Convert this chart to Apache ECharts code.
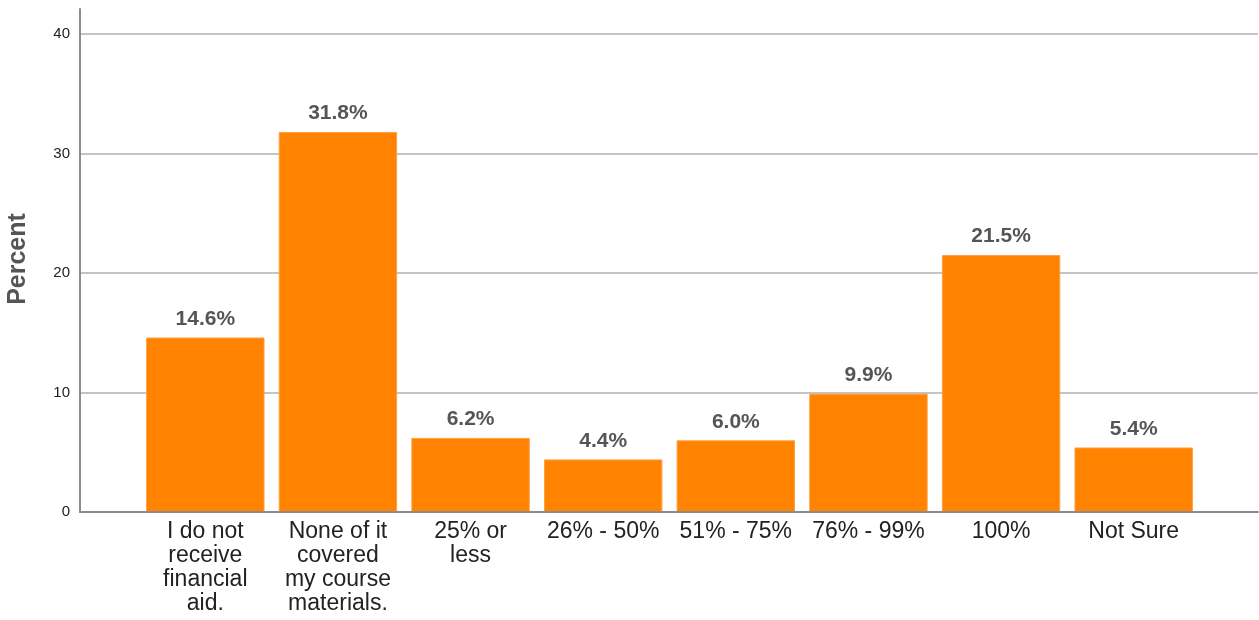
<!DOCTYPE html>
<html>
<head>
<meta charset="utf-8">
<title>Percent by financial aid coverage</title>
<script src="https://cdn.jsdelivr.net/npm/echarts@6/dist/echarts.min.js"></script>
<style>
  html, body { margin: 0; padding: 0; background: #ffffff; }
  #chart { width: 1259px; height: 620px; }
</style>
</head>
<body>
<div id="chart"></div>
<script>
// Categories (line breaks as drawn under each bar)
const categories = [
  'I do not\nreceive\nfinancial\naid.',
  'None of it\ncovered\nmy course\nmaterials.',
  '25% or\nless',
  '26% - 50%',
  '51% - 75%',
  '76% - 99%',
  '100%',
  'Not Sure'
];
// Percent of respondents in each category
const percents = [14.6, 31.8, 6.2, 4.4, 6.0, 9.9, 21.5, 5.4];
// Value axis ticks
const yTicks = [0, 10, 20, 30, 40];
const axisTitle = 'Percent';

const FONT = "'Liberation Sans', Arial, sans-serif";
const yMin = yTicks[0];
const yMax = yTicks[yTicks.length - 1];
const yStep = yTicks[1] - yTicks[0];
const axisTop = 42.1; // value at the top end of the vertical axis line

const chart = echarts.init(document.getElementById('chart'), null, { renderer: 'canvas' });

const hiddenAxis = {
  axisLine: { show: false }, axisTick: { show: false },
  axisLabel: { show: false }, splitLine: { show: false }
};

chart.setOption({
  animation: false,
  backgroundColor: '#ffffff',
  grid: [
    // frame: axis lines
    { left: 80, right: 1, top: 9, bottom: 108, outerBoundsMode: 'none' },
    // gridlines and tick labels
    { left: 80, right: 1, top: 34, bottom: 108, outerBoundsMode: 'none' },
    // bars
    { left: 139, right: 59, top: 34, bottom: 108, outerBoundsMode: 'none' }
  ],
  xAxis: [
    Object.assign({}, hiddenAxis, {
      type: 'value', gridIndex: 0, min: 0, max: 1, z: 5,
      axisLine: { show: true, lineStyle: { color: '#8c8c8c', width: 2 } }
    }),
    Object.assign({}, hiddenAxis, { type: 'value', gridIndex: 1, min: 0, max: 1 }),
    {
      type: 'category', gridIndex: 2, data: categories,
      axisLine: { show: false }, axisTick: { show: false },
      splitLine: { show: false },
      axisLabel: {
        interval: 0, margin: 8, color: '#222222',
        fontFamily: FONT, fontSize: 23, lineHeight: 24, align: 'center'
      }
    }
  ],
  yAxis: [
    Object.assign({}, hiddenAxis, {
      type: 'value', gridIndex: 0, min: yMin, max: axisTop, z: 5,
      axisLine: { show: true, lineStyle: { color: '#8c8c8c', width: 2 } }
    }),
    {
      type: 'value', gridIndex: 1, min: yMin, max: yMax, interval: yStep, z: 0,
      axisLine: { show: false }, axisTick: { show: false },
      axisLabel: { margin: 10, color: '#222222', fontFamily: FONT, fontSize: 15 },
      splitLine: { show: true, lineStyle: { color: '#c4c4c4', width: 2 } }
    },
    Object.assign({}, hiddenAxis, { type: 'value', gridIndex: 2, min: yMin, max: yMax })
  ],
  graphic: [{
    type: 'text',
    x: 18, y: 259,
    rotation: Math.PI / 2,
    style: {
      text: axisTitle,
      fill: '#555555',
      font: 'bold 25px ' + FONT,
      align: 'center',
      verticalAlign: 'middle'
    }
  }],
  series: [{
    type: 'bar',
    xAxisIndex: 2, yAxisIndex: 2,
    data: percents,
    barCategoryGap: '10.7%',
    z: 2,
    itemStyle: { color: '#ff8200', borderColor: '#ffa040', borderWidth: 1 },
    label: {
      show: true, position: 'top', distance: 8,
      formatter: p => p.value.toFixed(1) + '%',
      color: '#555555', fontFamily: FONT, fontSize: 21, fontWeight: 'bold'
    }
  }]
});
</script>
</body>
</html>
